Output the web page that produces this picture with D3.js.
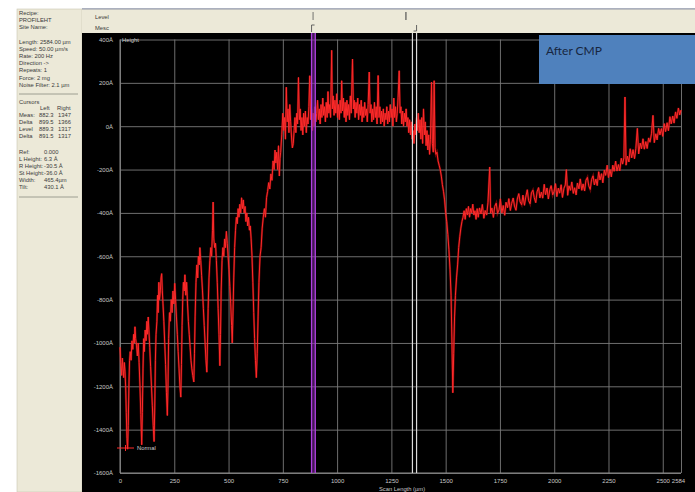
<!DOCTYPE html>
<html>
<head>
<meta charset="utf-8">
<script src="https://cdn.jsdelivr.net/npm/d3@7"></script>
<style>
  body { margin: 0; background: #fff; }
  svg { display: block; font-family: "Liberation Sans", Arial, sans-serif; }
</style>
</head>
<body>
<script>
var w = 695; // page width
var h = 492; // page height

// Axis ticks
var xTicks = [0, 250, 500, 750, 1000, 1250, 1500, 1750, 2000, 2250, 2500, 2584];
var yTicks = [-1600, -1400, -1200, -1000, -800, -600, -400, -200, 0, 200, 400];

// Cursor positions (um)
var purpleCursors = [882.3, 899.5];
var whiteCursors = [1347, 1366];
var levelMarks = [889.3, 1317];

// Scan profile, [scan length um, height A]
var slopeProfile = [
  [0,-1020],[4,-1090],[8,-1150],[11,-1070],[14,-1120],[17,-1160],[20,-1090],[23,-1130],[26,-1200],[29,-1320],
  [32,-1440],[35,-1490],[38,-1380],[41,-1200],[44,-1080],[47,-1040],[51,-1080],[55,-990],[59,-1030],[63,-960],
  [66,-1000],[69,-925],[72,-980],[76,-1010],[80,-1060],[84,-1000],[88,-1090],[92,-1200],[96,-1330],[100,-1470],
  [103,-1320],[106,-1120],[109,-980],[112,-1040],[116,-940],[120,-990],[124,-900],[127,-960],[130,-880],[133,-940],
  [137,-1020],[141,-1110],[145,-1200],[149,-1290],[153,-1380],[157,-1455],[160,-1300],[163,-1080],[166,-960],[170,-900],
  [173,-780],[176,-860],[179,-720],[182,-800],[186,-760],[189,-700],[192,-680],[195,-760],[198,-820],[202,-900],
  [206,-1000],[210,-1100],[214,-1230],[218,-1335],[221,-1200],[224,-980],[228,-860],[232,-900],[236,-800],[240,-860],
  [244,-760],[248,-820],[252,-725],[256,-800],[260,-880],[264,-960],[268,-1040],[272,-1120],[276,-1200],[280,-1250],
  [283,-1100],[286,-920],[289,-800],[292,-720],[296,-760],[299,-685],[303,-780],[307,-720],[311,-820],[315,-900],
  [319,-960],[323,-1020],[327,-1080],[331,-1120],[335,-1150],[340,-1180],[343,-1050],[346,-880],[350,-720],[354,-640],
  [358,-700],[361,-600],[365,-640],[368,-560],[372,-620],[376,-690],[380,-760],[384,-840],[388,-920],[392,-1000],
  [396,-1080],[400,-1135],[403,-1000],[406,-840],[410,-700],[414,-620],[418,-560],[422,-600],[426,-480],[429,-350],
  [432,-520],[436,-560],[440,-540],[444,-620],[448,-720],[452,-840],[456,-960],[460,-1105],[463,-960],[466,-760],
  [470,-620],[474,-560],[478,-600],[482,-520],[486,-560],[490,-485],[494,-540],[498,-600],[502,-660],[506,-740],
  [510,-820],[514,-920],[517,-1000],[520,-880],[524,-700],[528,-560],[532,-480],[536,-420],[540,-450],[544,-380],
  [548,-420],[552,-360],[556,-400],[560,-330],[564,-380],[568,-340],[572,-400],[576,-370],[580,-440],[584,-400],
  [588,-460],[592,-420],[596,-480],[600,-460],[604,-520],[608,-600],[612,-720],[616,-860],[620,-980],[624,-1080],
  [628,-1160],[632,-1050],[636,-880],[640,-720],[645,-600],[650,-560],[655,-470],[660,-420],[665,-380],[670,-420],
  [675,-330],[680,-300],[685,-260],[690,-290],[695,-220],[700,-250],[705,-160],[710,-200],[714,-110],[718,-170],
  [722,-120],[726,-200],[730,-90],[734,-230],[737,-150]
];

var plateauProfile = [
  [740,-120],[745,-40],[750,60],[754,-20],[758,40],[762,-60],[766,180],[770,20],[774,80],[778,-30],
  [782,100],[786,20],[790,-50],[794,-100],[798,-80],[802,-20],[806,40],[810,-30],[814,60],[818,10],
  [822,225],[826,30],[830,80],[834,-20],[838,40],[842,-40],[846,60],[850,0],[854,70],[858,-30],
  [862,40],[866,10],[870,90],[874,233],[878,30],[882,80],[886,-20],[890,60],[894,0],[898,90],
  [902,20],[906,60],[910,120],[914,30],[918,80],[922,10],[926,100],[930,40],[934,130],[938,50],
  [942,90],[946,20],[950,110],[954,40],[958,160],[962,60],[966,100],[970,40],[975,350],[978,80],
  [982,140],[986,50],[990,120],[994,60],[998,150],[1002,40],[1006,100],[1010,30],[1014,120],[1018,60],
  [1021,210],[1025,70],[1029,130],[1033,40],[1037,110],[1041,20],[1045,120],[1049,50],[1053,100],[1057,30],
  [1061,140],[1065,60],[1071,310],[1075,80],[1079,120],[1083,40],[1087,110],[1091,60],[1095,130],[1099,30],
  [1103,100],[1107,50],[1111,120],[1115,20],[1119,90],[1123,40],[1127,110],[1131,50],[1135,80],[1139,20],
  [1143,100],[1148,250],[1152,60],[1156,100],[1160,20],[1164,80],[1168,30],[1172,110],[1176,40],[1180,90],
  [1184,10],[1189,234],[1193,40],[1197,90],[1201,10],[1205,70],[1209,20],[1213,80],[1217,0],[1221,60],
  [1225,30],[1229,90],[1233,10],[1237,70],[1241,20],[1245,100],[1249,40],[1253,80],[1257,0],[1261,130],
  [1265,40],[1269,90],[1273,20],[1277,60],[1281,134],[1286,256],[1290,60],[1294,90],[1298,10],[1302,70],
  [1306,0],[1310,60],[1314,20],[1318,80],[1322,0],[1326,40],[1330,-30],[1334,30],[1338,-40],[1342,20],
  [1346,-60],[1350,-20],[1354,-80],[1358,10],[1362,-40],[1366,40],[1370,-20],[1374,60],[1378,-30],[1382,30],
  [1386,-60],[1390,40],[1394,-80],[1398,80],[1402,-40],[1406,20],[1410,-90],[1414,-20],[1418,-110],[1422,-40],
  [1426,-130],[1430,-60],[1435,203],[1439,-80],[1443,-120],[1447,210],[1451,-100],[1455,-130],[1460,-120],[1465,-160]
];

var trenchProfile = [
  [1470,-180],[1475,-200],[1480,-230],[1485,-270],[1490,-300],[1495,-340],[1500,-400],[1505,-440],[1510,-500],[1515,-570],
  [1520,-660],[1525,-780],[1529,-1000],[1533,-1230],[1537,-1050],[1541,-880],[1545,-780],[1550,-700],[1555,-640],[1560,-560],
  [1565,-510],[1570,-470],[1575,-440],[1580,-420],[1585,-390],[1590,-430],[1595,-380],[1600,-410],[1605,-370],[1610,-420],
  [1615,-380],[1620,-400],[1625,-360],[1630,-410],[1635,-390],[1640,-430],[1645,-380],[1650,-420]
];

var tailProfile = [
  [1656,-377],[1663,-405],[1669,-361],[1676,-425],[1682,-389],[1689,-410],[1695,-351],[1703,-188],[1707,-401],[1713,-377],
  [1720,-421],[1726,-370],[1733,-355],[1739,-402],[1746,-386],[1752,-335],[1759,-401],[1765,-366],[1772,-411],[1778,-351],
  [1785,-376],[1791,-334],[1798,-389],[1804,-356],[1811,-331],[1817,-368],[1824,-388],[1830,-336],[1837,-311],[1843,-349],
  [1850,-362],[1856,-318],[1863,-365],[1869,-327],[1876,-293],[1882,-343],[1889,-358],[1895,-308],[1902,-295],[1908,-329],
  [1915,-353],[1921,-303],[1928,-283],[1934,-331],[1941,-304],[1947,-332],[1954,-268],[1960,-316],[1967,-285],[1973,-336],
  [1980,-293],[1986,-274],[1993,-317],[1999,-302],[2006,-265],[2012,-325],[2019,-286],[2025,-309],[2032,-270],[2038,-329],
  [2045,-286],[2051,-271],[2056,-200],[2062,-319],[2068,-275],[2075,-296],[2081,-257],[2088,-310],[2094,-284],[2101,-317],
  [2107,-262],[2114,-289],[2120,-243],[2127,-296],[2133,-266],[2140,-299],[2146,-250],[2153,-236],[2159,-275],[2166,-292],
  [2172,-246],[2179,-229],[2185,-271],[2192,-244],[2198,-274],[2205,-210],[2211,-248],[2218,-219],[2224,-261],[2231,-203],
  [2237,-227],[2244,-180],[2250,-237],[2257,-200],[2263,-234],[2270,-180],[2276,-208],[2283,-161],[2289,-207],[2296,-177],
  [2302,-206],[2309,-148],[2315,-175],[2321,-146],[2326,135],[2331,-180],[2337,-138],[2344,-165],[2350,-104],[2357,-146],
  [2363,-108],[2370,-150],[2376,-103],[2383,-10],[2389,-128],[2396,-78],[2402,-104],[2409,-58],[2415,-106],[2422,-71],
  [2428,-103],[2435,-54],[2441,-74],[2448,-35],[2455,50],[2461,-76],[2468,-35],[2474,-63],[2481,-10],[2487,-40],
  [2494,-11],[2500,-47],[2507,12],[2513,-25],[2520,16],[2526,-21],[2533,44],[2539,11],[2546,47],[2552,14],
  [2559,66],[2565,36],[2572,84],[2578,52],[2584,75]
];

var profile = slopeProfile.concat(plateauProfile, trenchProfile, tailProfile);

// Info panel text
var recipeLines = ["Recipe:", " PROFILEHT", "Site Name:", "", "Length: 2584.00 \u00b5m", "Speed: 50.00 \u00b5m/s",
  "Rate: 200 Hz", "Direction ->", "Repeats: 1", "Force: 2 mg", "Noise Filter: 2.1 \u00b5m"];
var cursorRows = [["Meas:", "882.3", "1347"], ["Delta", "899.5", "1366"], ["Level", "889.3", "1317"], ["Delta", "891.5", "1317"]];
var resultRows = [["Ref:", "0.000"], ["L Height:", "6.3 \u00c5"], ["R Height:", "-30.5 \u00c5"], ["St Height:", "-36.0 \u00c5"],
  ["Width:", "465.4\u00b5m"], ["Tilt:", "430.1 \u00c5"]];

var svg = d3.select("body").append("svg")
    .attr("width", w)
    .attr("height", h);

// Left info panel
svg.append("rect").attr("x", 17).attr("y", 9).attr("width", 65).attr("height", h - 9)
    .attr("fill", "#ece9d8").attr("stroke", "#c9c5b2").attr("stroke-width", 0.6);

var panelText = svg.append("g").attr("font-size", 5.8).attr("fill", "#3a3a3a");

panelText.selectAll(".rl")
    .data(recipeLines)
    .join("text")
    .attr("x", 19)
    .attr("y", function(d, i) { return 14.7 + i * 7.2; })
    .text(function(d) { return d; });

svg.append("line").attr("x1", 19).attr("x2", 78).attr("y1", 94).attr("y2", 94)
    .attr("stroke", "#8c8a80").attr("stroke-width", 0.8);

panelText.append("text").attr("x", 19).attr("y", 103.5).text("Cursors");
panelText.append("text").attr("x", 40).attr("y", 110.3).text("Left");
panelText.append("text").attr("x", 57).attr("y", 110.3).text("Right");

cursorRows.forEach(function(r, i) {
    var yy = 117.1 + i * 6.8;
    panelText.append("text").attr("x", 19).attr("y", yy).text(r[0]);
    panelText.append("text").attr("x", 39).attr("y", yy).text(r[1]);
    panelText.append("text").attr("x", 58).attr("y", yy).text(r[2]);
});

resultRows.forEach(function(r, i) {
    var yy = 154 + i * 7;
    panelText.append("text").attr("x", 19).attr("y", yy).text(r[0]);
    panelText.append("text").attr("x", 44).attr("y", yy).text(r[1]);
});

svg.append("line").attr("x1", 19).attr("x2", 78).attr("y1", 197).attr("y2", 197)
    .attr("stroke", "#8c8a80").attr("stroke-width", 0.8);

// Header strip with level / meas markers
svg.append("rect").attr("x", 82).attr("y", 9).attr("width", w - 82).attr("height", 24)
    .attr("fill", "#ece9d8");
svg.append("line").attr("x1", 82).attr("x2", w).attr("y1", 8.8).attr("y2", 8.8)
    .attr("stroke", "#8f96a8").attr("stroke-width", 1.2);
svg.append("text").attr("x", 95).attr("y", 19).attr("font-size", 5.8).attr("fill", "#3a3a3a").text("Level");
svg.append("text").attr("x", 95).attr("y", 30).attr("font-size", 5.8).attr("fill", "#3a3a3a").text("Mesc");

// Scales
var x = d3.scaleLinear().domain([0, 2584]).range([120, 681]);
var y = d3.scaleLinear().domain([-1600, 400]).range([473, 39.5]);

svg.selectAll(".lvl")
    .data(levelMarks)
    .join("line")
    .attr("x1", function(d) { return x(d); })
    .attr("x2", function(d) { return x(d); })
    .attr("y1", 12).attr("y2", 20)
    .attr("stroke", "#555").attr("stroke-width", function(d, i) { return i ? 1.2 : 0.8; });

// Meas brackets
var m0 = x(purpleCursors[0]), m1 = x(whiteCursors[1]);
svg.append("path").attr("d", "M" + m0 + ",32 V25 H" + (m0 + 3))
    .attr("fill", "none").attr("stroke", "#555").attr("stroke-width", 0.9);
svg.append("path").attr("d", "M" + m1 + ",25 V31 H" + (m1 - 3))
    .attr("fill", "none").attr("stroke", "#555").attr("stroke-width", 0.9);

// Black plot area
svg.append("rect").attr("x", 82).attr("y", 33).attr("width", w - 82).attr("height", h - 33)
    .attr("fill", "#000");

// Grid + tick labels via axes
var yAxis = d3.axisLeft(y)
    .tickValues(yTicks)
    .tickSize(-(681 - 120))
    .tickPadding(7)
    .tickFormat(function(d) { return d + "\u00c5"; });

var xAxis = d3.axisBottom(x)
    .tickValues(xTicks)
    .tickSize(-(473 - 39.5))
    .tickPadding(6)
    .tickFormat(function(d) { return d; });

var gy = svg.append("g").attr("transform", "translate(120,0)").call(yAxis);
var gx = svg.append("g").attr("transform", "translate(0,473)").call(xAxis);

[gx, gy].forEach(function(g) {
    g.select(".domain").remove();
    g.selectAll(".tick line").attr("stroke", "#7a7a7a").attr("stroke-width", 0.9);
    g.selectAll(".tick text").attr("fill", "#c8c8c8").attr("font-size", 6)
        .attr("font-family", "Liberation Sans, Arial, sans-serif");
});
gx.selectAll(".tick text").filter(function(d) { return d === 2584; }).attr("dx", -3);

svg.append("line").attr("x1", 120).attr("x2", 120).attr("y1", 39.5).attr("y2", 473)
    .attr("stroke", "#8a8a8a").attr("stroke-width", 1);
svg.append("line").attr("x1", 120).attr("x2", 681).attr("y1", 473).attr("y2", 473)
    .attr("stroke", "#8a8a8a").attr("stroke-width", 1);

svg.append("text").attr("x", 122).attr("y", 42).attr("font-size", 5.8).attr("fill", "#d0d0d0").text("Height");
svg.append("text").attr("x", 402).attr("y", 491).attr("text-anchor", "middle")
    .attr("font-size", 5.8).attr("fill", "#c8c8c8").text("Scan Length (\u00b5m)");

// Profile trace
var line = d3.line()
    .x(function(d) { return x(d[0]); })
    .y(function(d) { return y(d[1]); });

svg.append("path")
    .datum(profile)
    .attr("d", line)
    .attr("fill", "none")
    .attr("stroke", "#e01010")
    .attr("stroke-width", 2.2)
    .attr("stroke-opacity", 0.45);

svg.append("path")
    .datum(profile)
    .attr("d", line)
    .attr("fill", "none")
    .attr("stroke", "#ff2a2a")
    .attr("stroke-width", 1)
    .attr("stroke-linejoin", "round");

// Cursors
svg.append("rect")
    .attr("x", x(purpleCursors[0]))
    .attr("y", 33)
    .attr("width", x(purpleCursors[1]) - x(purpleCursors[0]))
    .attr("height", 473 - 33)
    .attr("fill", "#7a2a9a").attr("fill-opacity", 0.55);

svg.selectAll(".pc")
    .data(purpleCursors)
    .join("line")
    .attr("x1", function(d) { return x(d); })
    .attr("x2", function(d) { return x(d); })
    .attr("y1", 33).attr("y2", 473)
    .attr("stroke", "#b040e0").attr("stroke-width", 1.3);

svg.selectAll(".wc")
    .data(whiteCursors)
    .join("line")
    .attr("x1", function(d) { return x(d); })
    .attr("x2", function(d) { return x(d); })
    .attr("y1", 33).attr("y2", 473)
    .attr("stroke", "#dcdcdc").attr("stroke-width", 1.2);

// Legend
svg.append("line").attr("x1", 117).attr("x2", 134).attr("y1", 448).attr("y2", 448)
    .attr("stroke", "#ff2a2a").attr("stroke-width", 1);
svg.append("line").attr("x1", 125.5).attr("x2", 125.5).attr("y1", 445).attr("y2", 451)
    .attr("stroke", "#ff2a2a").attr("stroke-width", 1);
svg.append("text").attr("x", 137).attr("y", 450).attr("font-size", 5.8).attr("fill", "#d0d0d0").text("Normal");

// "After CMP" note box
svg.append("rect").attr("x", 539).attr("y", 35).attr("width", w - 539).attr("height", 49)
    .attr("fill", "#4f81bd");
svg.append("text").attr("x", 546).attr("y", 55).attr("font-family", "Lato, 'Open Sans', sans-serif")
    .attr("font-size", 12).attr("fill", "#17263f").text("After CMP");
</script>
</body>
</html>
